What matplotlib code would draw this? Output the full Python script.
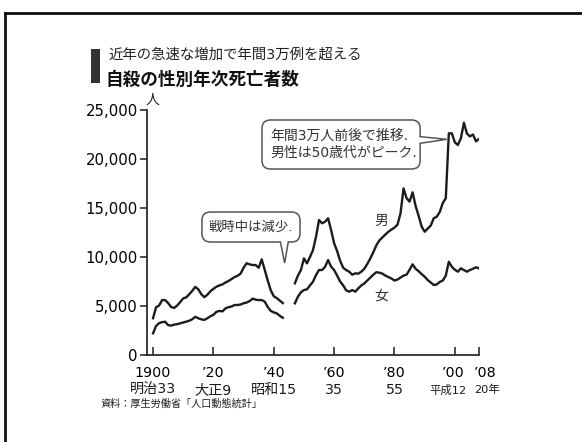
import matplotlib
matplotlib.use('Agg')
import matplotlib.pyplot as plt
import matplotlib.transforms as mtransforms
from matplotlib.lines import Line2D
from matplotlib.patches import Rectangle, FancyBboxPatch, Polygon
import numpy as np

plt.rcParams['font.family'] = ['DejaVu Sans', 'Noto Sans CJK JP']

# 年次 (1944-46 は統計なし)
years_pre = list(range(1900, 1944))
years_post = list(range(1947, 2009))

male_pre = [3750, 4870, 5050, 5600, 5610, 5300, 4900, 4800, 5050, 5400,
            5780, 5880, 6200, 6550, 6950, 6700, 6200, 5900, 6150, 6500,
            6750, 6970, 7100, 7200, 7400, 7550, 7750, 7950, 8080, 8300,
            8900, 9360, 9250, 9180, 9180, 8900, 9760, 8700, 7600, 6600,
            6000, 5800, 5550, 5300]
female_pre = [2210, 2960, 3250, 3350, 3400, 3050, 3000, 3100, 3150, 3230,
              3320, 3400, 3500, 3650, 3900, 3750, 3640, 3580, 3750, 3950,
              4100, 4400, 4500, 4450, 4760, 4880, 4950, 5100, 5100, 5150,
              5280, 5350, 5500, 5750, 5650, 5600, 5610, 5450, 4900, 4500,
              4350, 4250, 4000, 3800]

male_post = [7310, 8100, 8670, 9860, 9350, 10000, 10710, 12070, 13775, 13440,
             13600, 13950, 12755, 11400, 10600, 9600, 8900, 8670, 8500, 8200,
             8330, 8300, 8500, 8800, 9300, 9860, 10500, 11200, 11700, 12000,
             12300, 12580, 12800, 13000, 13300, 14460, 17000, 16000, 15650, 16600,
             15200, 14200, 13100, 12580, 12900, 13200, 13950, 14110, 14600, 15500,
             16000, 22620, 22620, 21700, 21430, 22110, 23700, 22600, 22300, 22500,
             21800, 22050]
female_post = [5270, 5950, 6400, 6630, 6700, 7100, 7480, 8160, 8670, 8670,
               9000, 9690, 9010, 8670, 8100, 7500, 7100, 6600, 6460, 6630,
               6460, 6800, 7100, 7300, 7600, 7900, 8200, 8450, 8400, 8300,
               8100, 7950, 7800, 7600, 7700, 7900, 8100, 8200, 8700, 9250,
               8800, 8550, 8250, 7990, 7650, 7400, 7140, 7200, 7450, 7600,
               8100, 9520, 9000, 8700, 8500, 8840, 8670, 8500, 8670, 8800,
               8950, 8840]

xticks = [1900, 1920, 1940, 1960, 1980, 2000, 2008]
xticklabels = ['1900', '’20', '’40', '’60', '’80', '’00', '’08']
era_labels = ['明治33', '大正9', '昭和15', '35', '55', '平成12', '20年']
yticks = [0, 5000, 10000, 15000, 20000, 25000]

ink = '#1c1c1c'
edge = '#555555'

fig = plt.figure(figsize=(5.82, 4.42), dpi=100)
ax = fig.add_axes([147 / 582, 1 - 355 / 442, 332 / 582, 245 / 442])

for xs, ys in [(years_pre, male_pre), (years_post, male_post),
               (years_pre, female_pre), (years_post, female_post)]:
    ax.plot(xs, ys, color=ink, lw=1.7, solid_joinstyle='round')

ax.set_xlim(1898, 2008)
ax.set_ylim(0, 25000)
ax.set_xticks(xticks)
ax.set_xticklabels(xticklabels, fontsize=10.3)
ax.set_yticks(yticks)
ax.set_yticklabels([f'{v:,}' for v in yticks], fontsize=10.7)
ax.tick_params(axis='x', direction='in', length=6, width=1.1, color=ink, pad=8)
ax.tick_params(axis='y', direction='out', length=5, width=1.1, color=ink, pad=1.5)
for s in ['top', 'right']:
    ax.spines[s].set_visible(False)
for s in ['left', 'bottom']:
    ax.spines[s].set_linewidth(1.2)
    ax.spines[s].set_color(ink)

# 最後の2つは詰まるので左右にずらす
def shift(dx_px):
    return mtransforms.ScaledTranslation(dx_px / 100, 0, fig.dpi_scale_trans)

tl = ax.get_xticklabels()
tl[-2].set_transform(tl[-2].get_transform() + shift(-2))
tl[-1].set_transform(tl[-1].get_transform() + shift(6))

# 元号の行
xform = mtransforms.blended_transform_factory(ax.transData, ax.transAxes)
era_dx = [0, 0, 0, 0, 0, -7, 8]
for x, lab, dx in zip(xticks, era_labels, era_dx):
    size = 8.2 if dx else 10.2
    ax.text(x, -35 / 245, lab, transform=xform + shift(dx), fontsize=size,
            ha='center', va='center', color=ink)

# 系列ラベル
ax.text(1975.5, 13700, '男', fontsize=10, ha='center', va='center', color='#333333')
ax.text(1975.5, 6100, '女', fontsize=10, ha='center', va='center', color='#333333')

# 吹き出し (角丸の枠 + くさび形の口)
aspect = (25000 / 245) / (110 / 332)

def callout(x0, y0, x1, y1, base, tip):
    ax.add_patch(FancyBboxPatch((x0, y0), x1 - x0, y1 - y0,
                                boxstyle='round,pad=0,rounding_size=2.8',
                                mutation_aspect=aspect, fc='white', ec=edge,
                                lw=1.1, zorder=3))
    (ax_, ay_), (bx_, by_) = base
    # 口の部分の枠線を白で消してから両辺を描く
    if ay_ == by_:
        inner = [(ax_, ay_ + 300), (bx_, by_ + 300)]
    else:
        inner = [(ax_ - 0.8, ay_), (bx_ - 0.8, by_)]
    ax.add_patch(Polygon([inner[0], (ax_, ay_), tip, (bx_, by_), inner[1]],
                         closed=True, fc='white', ec='none', zorder=4))
    ax.add_line(Line2D([ax_, tip[0], bx_], [ay_, tip[1], by_], color=edge,
                       lw=1.1, zorder=5, solid_joinstyle='miter'))

callout(1916.2, 11530, 1948.7, 14590,
        [(1942.2, 11530), (1944.8, 11530)], (1943.6, 9390))
ax.text(1932.3, 13060, '戦時中は減少.', fontsize=9.6, ha='center', va='center',
        color='#333333', zorder=6)

callout(1936.1, 18980, 1988.5, 23980,
        [(1988.5, 22280), (1988.5, 21600)], (1997.3, 22010))
ax.text(1938.9, 21480, '年間3万人前後で推移.\n男性は50歳代がピーク.', fontsize=10,
        ha='left', va='center', color='#333333', linespacing=1.25, zorder=6)

# 見出し
fig.add_artist(Rectangle((91 / 582, 1 - 83 / 442), 9 / 582, 34 / 442,
                         transform=fig.transFigure, fc='#333333', ec='none'))
fig.text(108 / 582, 1 - 55 / 442, '近年の急速な増加で年間3万例を超える',
         fontsize=10.4, va='center', ha='left', color='#222222')
fig.text(106 / 582, 1 - 80 / 442, '自殺の性別年次死亡者数',
         fontsize=12.7, fontweight='bold', va='center', ha='left', color='#111111')
fig.text(152 / 582, 1 - 100 / 442, '人', fontsize=10, va='center', ha='center', color='#222222')
fig.text(100 / 582, 1 - 404 / 442, '資料：厚生労働省「人口動態統計」',
         fontsize=7.3, va='center', ha='left', color='#222222')

# 外枠
fig.add_artist(Line2D([5 / 582, 1], [1 - 13 / 442, 1 - 13 / 442],
                      transform=fig.transFigure, color='#111111', lw=2))
fig.add_artist(Line2D([5 / 582, 5 / 582], [0, 1 - 13 / 442],
                      transform=fig.transFigure, color='#111111', lw=2))

fig.savefig('out.png', dpi=100)
